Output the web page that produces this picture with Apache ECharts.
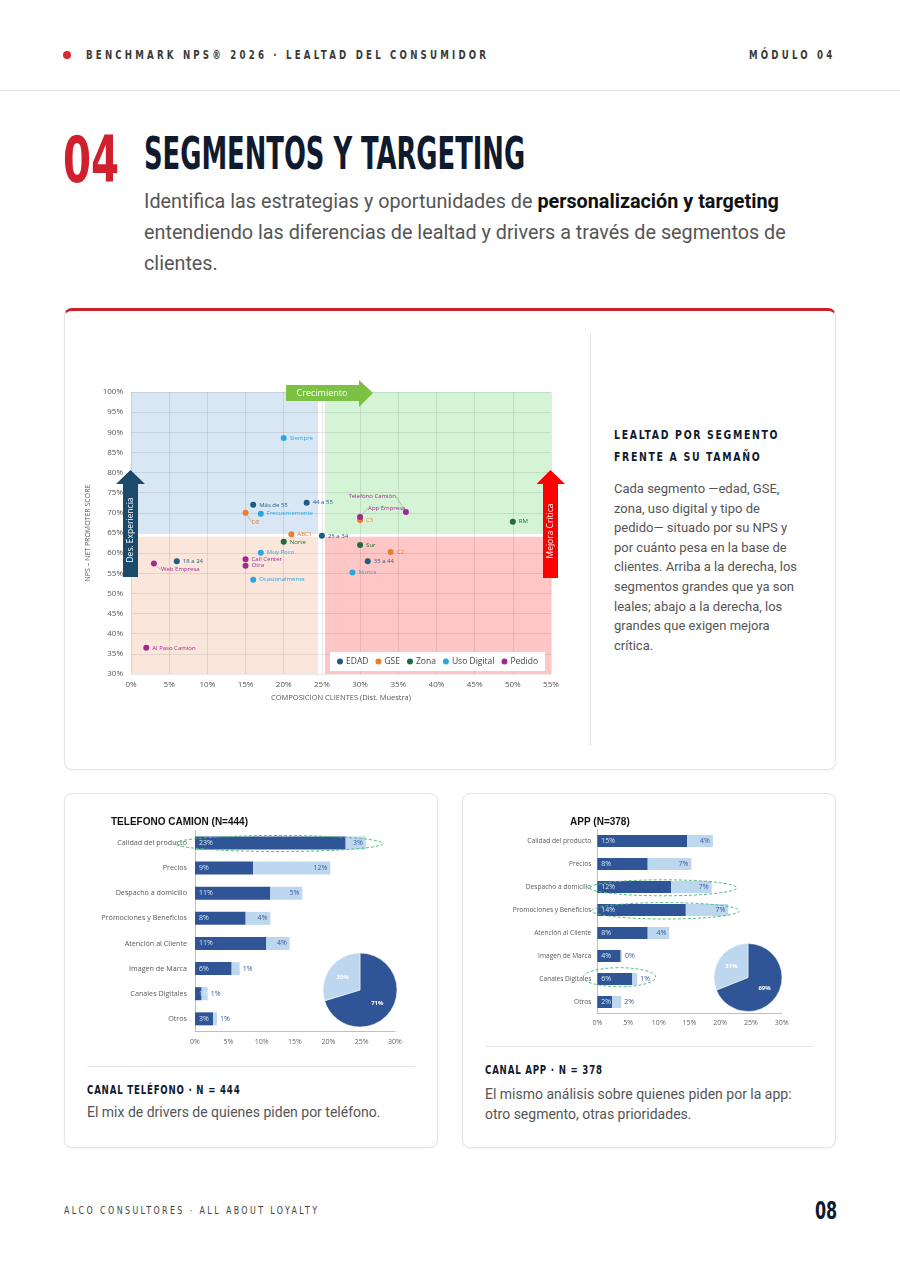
<!DOCTYPE html>
<html><head><meta charset="utf-8">
<script src="https://cdn.jsdelivr.net/npm/echarts@6/dist/echarts.min.js"></script>
<style>
body{margin:0;width:900px;height:1274px;background:#fff;position:relative;overflow:hidden;font-family:Roboto,'Noto Sans',sans-serif;color:#555;}
.a{position:absolute;white-space:nowrap;}
.cond{font-family:'Liberation Sans Narrow','DejaVu Sans Condensed',sans-serif;font-weight:bold;transform-origin:left top;}
.card{position:absolute;box-sizing:border-box;border:1px solid #e4e4e4;border-radius:8px;background:#fff;box-shadow:0 1px 3px rgba(0,0,0,0.04);}
</style></head>
<body>
<div class="a" style="left:63px;top:51px;width:8px;height:8px;border-radius:50%;background:#d62b33"></div>
<div class="a cond" style="left:86px;top:48px;font-size:12px;line-height:14px;letter-spacing:4px;color:#3a3a3a;transform:scaleX(0.8)">BENCHMARK NPS® 2026 · LEALTAD DEL CONSUMIDOR</div>
<div class="a cond" style="left:749px;top:48px;font-size:12px;line-height:14px;letter-spacing:4px;color:#3a3a3a;transform:scaleX(0.8)">MÓDULO 04</div>
<div class="a" style="left:0;top:90px;width:900px;height:1px;background:#e6e6e6"></div>

<div class="a cond" style="left:63px;top:128px;font-size:64px;line-height:64px;color:#d0202e;transform:scaleX(0.70)">04</div>
<div class="a cond" style="left:144px;top:130px;font-size:44px;line-height:48px;color:#0f1a2e;transform:scaleX(0.652)">SEGMENTOS Y TARGETING</div>
<div class="a" style="left:144px;top:186px;font-size:19.8px;line-height:31px;color:#555">Identifica las estrategias y oportunidades de <b style="color:#111">personalización y targeting</b><br>entendiendo las diferencias de lealtad y drivers a través de segmentos de<br>clientes.</div>

<div class="card" style="left:64px;top:308px;width:772px;height:462px;border-top:3px solid #c9202c"></div>
<div class="a" style="left:590px;top:333px;width:1px;height:412px;background:#e2e2e2"></div>
<div class="a cond" style="left:614px;top:424px;font-size:13px;line-height:22px;letter-spacing:2.1px;color:#0f1a2e;transform:scaleX(0.8)">LEALTAD POR SEGMENTO<br>FRENTE A SU TAMAÑO</div>
<div class="a" style="left:614px;top:479px;font-size:13px;line-height:19.6px;color:#555">Cada segmento —edad, GSE,<br>zona, uso digital y tipo de<br>pedido— situado por su NPS y<br>por cuánto pesa en la base de<br>clientes. Arriba a la derecha, los<br>segmentos grandes que ya son<br>leales; abajo a la derecha, los<br>grandes que exigen mejora<br>crítica.</div>
<div id="scatter" class="a" style="left:85px;top:372px;width:490px;height:335px"></div>

<div class="card" style="left:64px;top:793px;width:374px;height:355px"></div>
<div class="card" style="left:462px;top:793px;width:374px;height:355px"></div>
<div id="bar1" class="a" style="left:80px;top:805px;width:340px;height:250px"></div>
<div id="bar2" class="a" style="left:475px;top:805px;width:340px;height:235px"></div>
<div class="a" style="left:87px;top:1066px;width:328px;height:1px;background:#e5e5e5"></div>
<div class="a cond" style="left:87px;top:1083px;font-size:12px;line-height:14px;letter-spacing:1px;color:#0f1a2e;transform:scaleX(0.8)">CANAL TELÉFONO · N = 444</div>
<div class="a" style="left:87px;top:1103px;font-size:14px;line-height:19.5px;color:#555">El mix de drivers de quienes piden por teléfono.</div>
<div class="a" style="left:485px;top:1046px;width:328px;height:1px;background:#e5e5e5"></div>
<div class="a cond" style="left:485px;top:1063px;font-size:12px;line-height:14px;letter-spacing:1px;color:#0f1a2e;transform:scaleX(0.8)">CANAL APP · N = 378</div>
<div class="a" style="left:485px;top:1085px;font-size:14px;line-height:19.5px;color:#555">El mismo análisis sobre quienes piden por la app:<br>otro segmento, otras prioridades.</div>

<div class="a cond" style="left:64px;top:1204px;font-size:11px;line-height:14px;letter-spacing:3px;color:#444;font-weight:normal;transform:scaleX(0.8)">ALCO CONSULTORES · ALL ABOUT LOYALTY</div>
<div class="a cond" style="left:815px;top:1198px;font-size:24px;line-height:26px;color:#0f1a2e;transform:scaleX(0.74)">08</div>

<script>
// ---------- Scatter data ----------
const segGroups = ['EDAD', 'GSE', 'Zona', 'Uso Digital', 'Pedido'];
const groupColors = ['#1f5c84', '#ee7b30', '#1e6b3b', '#2aa6dc', '#a0288f'];
const edadNames = ['Más de 55', '44 a 55', '25 a 34', '18 a 24', '35 a 44'];
const edadX = [16, 23, 25, 6, 31];
const edadY = [72, 72.5, 64.3, 58, 58];
const gseNames = ['DE', 'ABC1', 'C3', 'C2'];
const gseX = [15, 21, 30, 34];
const gseY = [70, 64.7, 68.2, 60.3];
const zonaNames = ['Norte', 'RM', 'Sur'];
const zonaX = [20, 50, 30];
const zonaY = [62.8, 67.8, 62];
const digNames = ['Siempre', 'Frecuentemente', 'Muy Poco', 'Ocasionalmente', 'Nunca'];
const digX = [20, 17, 17, 16, 29];
const digY = [88.6, 69.8, 60.1, 53.4, 55.2];
const pedNames = ['Telefono Camión', 'App Empresa', 'Web Empresa', 'Call Center', 'Otra', 'Al Paso Camion'];
const pedX = [36, 30, 3, 15, 15, 2];
const pedY = [70.2, 69, 57.4, 58.5, 56.9, 36.5];
const xTitle = 'COMPOSICION CLIENTES (Dist. Muestra)';
const yTitle = 'NPS – NET PROMOTER SCORE';

// ---------- Bar data ----------
const driverCats = ['Calidad del producto', 'Precios', 'Despacho a domicilio', 'Promociones y Beneficios', 'Atención al Cliente', 'Imagen de Marca', 'Canales Digitales', 'Otros'];
const telDark = [22.6, 8.7, 11.3, 7.6, 10.7, 5.5, 1.0, 2.7];
const telLight = [3.0, 11.6, 4.8, 3.7, 3.5, 1.2, 0.9, 0.6];
const telPie = [71, 30];
const appDark = [14.6, 8.2, 12.0, 14.4, 8.2, 3.8, 5.7, 2.4];
const appLight = [4.2, 7.1, 6.6, 6.9, 3.5, 0.2, 0.8, 1.5];
const appPie = [69, 31];

const groups = [
  [edadNames, edadX, edadY], [gseNames, gseX, gseY], [zonaNames, zonaX, zonaY],
  [digNames, digX, digY], [pedNames, pedX, pedY]
];
const shifted = {
  'DE': {dx: 0, dy: 9},
  'Web Empresa': {dx: 1, dy: 6},
  'Telefono Camión': {dx: -4, dy: -16},
  'App Empresa': {dx: 2, dy: -9}
};
const leftLabels = {'Telefono Camión': true};

const sc = echarts.init(document.getElementById('scatter'));
const scSeries = [{
  type: 'scatter', data: [], z: 1, silent: true,
  markArea: {
    silent: true,
    data: [
      [{xAxis: 0, yAxis: 65, itemStyle: {color: '#d9e7f5'}}, {xAxis: 24.5, yAxis: 100}],
      [{xAxis: 25.4, yAxis: 65, itemStyle: {color: '#d5f4d6'}}, {xAxis: 55, yAxis: 100}],
      [{xAxis: 0, yAxis: 30, itemStyle: {color: '#fbe6dc'}}, {xAxis: 24.5, yAxis: 64.1}],
      [{xAxis: 25.4, yAxis: 30, itemStyle: {color: '#ffc6c6'}}, {xAxis: 55, yAxis: 64.1}]
    ]
  }
}];
groups.forEach((g, gi) => {
  scSeries.push({
    name: segGroups[gi], type: 'scatter', z: 3, symbolSize: 6,
    itemStyle: {color: groupColors[gi], opacity: 1},
    label: {show: true, position: 'right', distance: 3, formatter: '{b}', fontSize: 6, color: groupColors[gi]},
    labelLine: {show: false},
    data: g[0].map((n, i) => {
      const d = {name: n, value: [g[1][i], g[2][i]]};
      if (leftLabels[n]) d.label = {position: 'left'};
      if (shifted[n]) d.labelLine = {show: true, lineStyle: {color: '#999', width: 0.6}};
      return d;
    }),
    labelLayout: function (p) {
      const s = shifted[p.text];
      return s ? {dx: s.dx, dy: s.dy} : {};
    }
  });
});
sc.setOption({
  animation: false,
  textStyle: {fontFamily: "'Open Sans', 'Noto Sans', sans-serif"},
  grid: {left: 46, top: 20, width: 420, height: 282, outerBoundsMode: 'none', containLabel: false},
  xAxis: {
    type: 'value', min: 0, max: 55, interval: 5, z: 2,
    name: xTitle, nameLocation: 'middle', nameGap: 20,
    nameTextStyle: {fontSize: 7.5, color: '#555'},
    axisLabel: {formatter: '{value}%', fontSize: 8, color: '#555', margin: 7},
    axisLine: {show: false}, axisTick: {show: false},
    splitLine: {show: true, lineStyle: {color: 'rgba(0,0,0,0.09)', width: 1}}
  },
  yAxis: {
    type: 'value', min: 30, max: 100, interval: 5, z: 2,
    name: yTitle, nameLocation: 'middle', nameGap: 33, nameRotate: 90,
    nameTextStyle: {fontSize: 7, color: '#555'},
    axisLabel: {formatter: '{value}%', fontSize: 8, color: '#555', margin: 8},
    axisLine: {show: false}, axisTick: {show: false},
    splitLine: {show: true, lineStyle: {color: 'rgba(0,0,0,0.09)', width: 1}}
  },
  legend: {
    data: segGroups, left: 245, top: 280, backgroundColor: '#fff',
    padding: [5, 7], itemGap: 7, itemWidth: 6, itemHeight: 6, icon: 'circle',
    textStyle: {fontSize: 8.5, color: '#444', padding: [0, 0, 0, -2]}
  },
  graphic: [
    {type: 'polygon', z: 100, shape: {points: [[201, 13], [274, 13], [274, 8], [288, 21], [274, 35], [274, 29], [201, 29]]}, style: {fill: '#7cc144'}},
    {type: 'text', z: 101, x: 237, y: 21, style: {text: 'Crecimiento', fill: '#fff', font: '9px "Open Sans", sans-serif', align: 'center', verticalAlign: 'middle'}},
    {type: 'polygon', z: 100, shape: {points: [[38, 205], [38, 112], [31, 112], [45.5, 98], [60, 112], [53, 112], [53, 205]]}, style: {fill: '#1b4a6b'}},
    {type: 'text', z: 101, x: 45.5, y: 158, rotation: Math.PI / 2, style: {text: 'Des. Experiencia', fill: '#fff', font: '8.5px "Open Sans", sans-serif', align: 'center', verticalAlign: 'middle'}},
    {type: 'polygon', z: 100, shape: {points: [[458, 206], [458, 112], [451.5, 112], [465.5, 98], [480, 112], [473, 112], [473, 206]]}, style: {fill: '#ff0000'}},
    {type: 'text', z: 101, x: 465.5, y: 159, rotation: Math.PI / 2, style: {text: 'Mejora Crítica', fill: '#fff', font: '8.5px "Open Sans", sans-serif', align: 'center', verticalAlign: 'middle'}}
  ],
  series: scSeries
});

function barChart(id, cfg) {
  const ch = echarts.init(document.getElementById(id));
  const fmt = p => Math.round(p.value) + '%';
  ch.setOption({
    animation: false,
    textStyle: {fontFamily: "'Open Sans', 'Noto Sans', sans-serif"},
    title: {text: cfg.title, left: cfg.titleLeft, top: cfg.titleTop, padding: 0,
      textStyle: {fontFamily: "'Liberation Sans', Arial, sans-serif", fontSize: 10, fontWeight: 'bold', color: '#111'}},
    grid: {left: cfg.left, top: cfg.top, width: cfg.width, height: cfg.height, outerBoundsMode: 'none', containLabel: false},
    xAxis: {type: 'value', min: 0, max: 30, interval: 5,
      axisLabel: {formatter: '{value}%', fontSize: 7, color: '#666', margin: cfg.xMargin},
      splitLine: {show: false}, axisTick: {show: false},
      axisLine: {show: true, lineStyle: {color: '#bfbfbf'}}},
    yAxis: {type: 'category', inverse: true, data: driverCats,
      axisTick: {show: false}, axisLine: {show: true, lineStyle: {color: '#bfbfbf'}},
      axisLabel: {fontSize: cfg.catFont, color: '#595959', margin: cfg.catMargin}},
    series: [
      {type: 'bar', stack: 's', data: cfg.dark, barWidth: cfg.barW, itemStyle: {color: '#2f5597'},
        label: {show: true, position: 'insideLeft', distance: 4, formatter: fmt, fontSize: 7, color: '#dce6f2'}},
      {type: 'bar', stack: 's', barWidth: cfg.barW, itemStyle: {color: '#bdd7ee'},
        data: cfg.light.map(v => ({value: v, label: {position: v >= 3 ? 'insideRight' : 'right'}})),
        label: {show: true, distance: 3, formatter: fmt, fontSize: 7, color: '#3b5aa0'}},
      {type: 'pie', center: cfg.pieCenter, radius: cfg.pieR, startAngle: 90, silent: true,
        itemStyle: {borderColor: '#fff', borderWidth: 0.5},
        label: {show: true, position: 'inside', formatter: '{c}%', fontSize: 6, fontWeight: 'bold', color: '#fff'},
        labelLine: {show: false},
        data: [{value: cfg.pie[0], itemStyle: {color: '#2f5597'}}, {value: cfg.pie[1], itemStyle: {color: '#bdd7ee'}}]}
    ],
    graphic: cfg.ellipses.map(e => ({type: 'ellipse', z: 50, shape: {cx: e[0], cy: e[1], rx: e[2], ry: e[3]},
      style: {fill: 'none', stroke: '#4fbf7f', lineWidth: 1, lineDash: [3, 2]}}))
  });
}
barChart('bar1', {
  title: 'TELEFONO CAMION (N=444)', titleLeft: 31, titleTop: 12,
  left: 115, top: 25.4, width: 200, height: 201, barW: 13, catFont: 7.2, catMargin: 8, xMargin: 7,
  dark: telDark, light: telLight, pie: telPie, pieCenter: [280, 185], pieR: 37,
  ellipses: [[199, 38.5, 104, 8]]
});
barChart('bar2', {
  title: 'APP (N=378)', titleLeft: 95, titleTop: 12,
  left: 122.3, top: 24.5, width: 184.4, height: 184, barW: 12, catFont: 6.6, catMargin: 6, xMargin: 6,
  dark: appDark, light: appLight, pie: appPie, pieCenter: [273, 172.5], pieR: 34,
  ellipses: [[188.3, 82.8, 73.3, 8], [190.5, 105.8, 73.8, 8.2], [144.5, 172.2, 36.2, 9.5]]
});
</script>
</body></html>
